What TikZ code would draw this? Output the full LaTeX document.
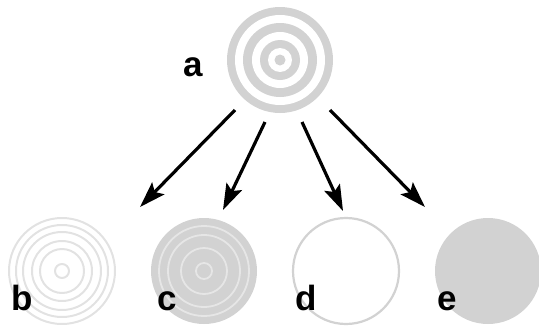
\documentclass[tikz,border=0pt]{standalone}
\usepackage{fontspec}
\setmainfont{Liberation Sans}
\usetikzlibrary{arrows.meta}
\definecolor{ringgray}{HTML}{D2D2D2}
\definecolor{faintgray}{HTML}{E2E2E2}
\definecolor{palegray}{HTML}{E6E6E6}
\begin{document}
\begin{tikzpicture}[x=1pt,y=-1pt,
  lbl/.style={anchor=base,inner sep=0pt,font=\fontsize{35}{35}\selectfont\bfseries},
  arr/.style={line width=3.2pt,-{Stealth[length=26pt,width=17pt,inset=5pt]}},
  disk/.style={circle,inner sep=0pt,minimum size=106pt}]
\useasboundingbox (0,0) rectangle (539,327);
% circle a: concentric rings
\node[disk,fill=ringgray] (a) at (280,60) {};
\fill[white] (a.center) circle (45);
\fill[ringgray] (a.center) circle (37);
\fill[white] (a.center) circle (28);
\fill[ringgray] (a.center) circle (20);
\fill[white] (a.center) circle (12);
\fill[ringgray] (a.center) circle (5.5);
% circle b: ring outlines
\node[disk,draw=faintgray,line width=2pt] (b) at (62,271) {};
\foreach \r in {46,39,30,22,7}{\draw[faintgray,line width=2pt] (b.center) circle (\r);}
% circle c: filled with pale ring lines
\node[disk,fill=ringgray] (c) at (204,271) {};
\foreach \r in {45,36,23,8}{\draw[palegray,line width=1.8pt] (c.center) circle (\r);}
% circle d: outline
\node[disk,draw=ringgray,line width=2.2pt] (d) at (346,271) {};
% circle e: filled
\node[disk,fill=ringgray] (e) at (488,271) {};
% labels
\node[lbl] (la) at (193,76) {a};
\node[lbl] (lb) at (22,310) {b};
\node[lbl] (lc) at (167,310) {c};
\node[lbl] (ld) at (306,310) {d};
\node[lbl] (le) at (447,310) {e};
% arrow end points
\coordinate (s1) at (235,110); \coordinate (t1) at (140,207);
\coordinate (s2) at (265,122); \coordinate (t2) at (223,210);
\coordinate (s3) at (302,122); \coordinate (t3) at (343,211);
\coordinate (s4) at (330,110); \coordinate (t4) at (425,207);
\draw[arr] (s1) -- (t1);
\draw[arr] (s2) -- (t2);
\draw[arr] (s3) -- (t3);
\draw[arr] (s4) -- (t4);
\end{tikzpicture}
\end{document}
